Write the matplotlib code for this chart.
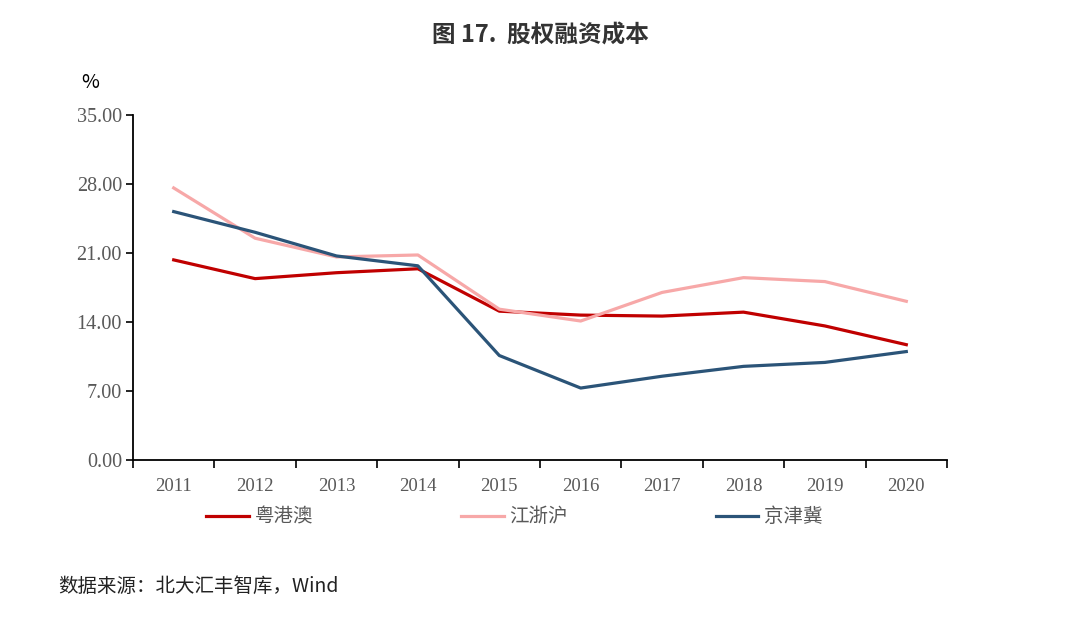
import matplotlib
matplotlib.use("Agg")
import matplotlib.pyplot as plt
import numpy as np

plt.rcParams['font.family'] = ['Noto Sans CJK SC', 'DejaVu Sans']

years = ['2011', '2012', '2013', '2014', '2015', '2016', '2017', '2018', '2019', '2020']
yga = [20.3, 18.4, 19.0, 19.4, 15.1, 14.7, 14.6, 15.0, 13.6, 11.7]
jzh = [27.6, 22.5, 20.6, 20.8, 15.3, 14.1, 17.0, 18.5, 18.1, 16.1]
jjj = [25.2, 23.1, 20.7, 19.7, 10.6, 7.3, 8.5, 9.5, 9.9, 11.0]
series_names = ['粤港澳', '江浙沪', '京津冀']
colors = ['#C00000', '#F7A8A8', '#2B5478']

fig = plt.figure(figsize=(10.8, 6.19), dpi=100)
ax = fig.add_axes([133 / 1080, 1 - 460 / 619, 814 / 1080, 345 / 619])

x = np.arange(len(years))
for vals, name, c in zip([yga, jzh, jjj], series_names, colors):
    ax.plot(x, vals, color=c, linewidth=2.3, label=name)

ax.set_xlim(-0.5, 9.5)
ax.set_ylim(0, 35)
ax.set_yticks(np.arange(0, 35.1, 7))
ax.set_yticklabels(['%.2f' % v for v in np.arange(0, 35.1, 7)],
                   family=['Liberation Serif'], fontsize=14.5, color='#595959')
ax.set_xticks(np.arange(-0.5, 10, 1))
ax.set_xticklabels([])
ax.set_xticks(x, minor=True)
ax.set_xticklabels(years, minor=True, family=['Liberation Serif'], fontsize=13.5, color='#595959')
ax.tick_params(axis='x', which='major', direction='out', length=6, width=1.2, color='black')
ax.tick_params(axis='x', which='minor', length=0, pad=13)
ax.tick_params(axis='y', direction='out', length=5, width=1.2, color='black', pad=3)

for s in ['top', 'right']:
    ax.spines[s].set_visible(False)
for s in ['left', 'bottom']:
    ax.spines[s].set_linewidth(1.3)

fig.text(90 / 1080, 1 - 83 / 619, '%', fontsize=14, ha='center', va='center')
fig.text(540 / 1080, 1 - 36 / 619, '图 17.  股权融资成本', fontsize=17, fontweight='bold',
         ha='center', va='center', color='#333333')
fig.text(58 / 1080, 1 - 586 / 619, '数据来源：北大汇丰智库，Wind', fontsize=14,
         ha='left', va='center', color='#222222')

leg = ax.legend(loc='center left', bbox_to_anchor=(0.068, -0.165), ncol=3, frameon=False,
                fontsize=14, handlelength=2.2, columnspacing=7.6, handletextpad=0.3)
for t in leg.get_texts():
    t.set_color('#595959')

fig.savefig('out.png', dpi=100)
